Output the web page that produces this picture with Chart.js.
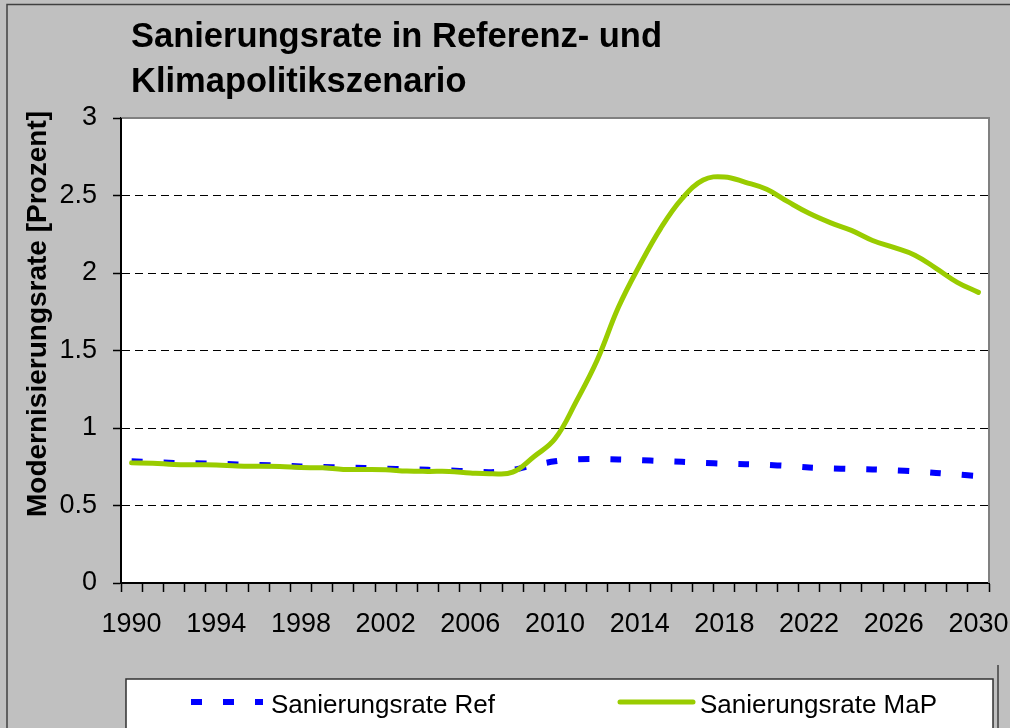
<!DOCTYPE html>
<html>
<head>
<meta charset="utf-8">
<script src="https://cdn.jsdelivr.net/npm/chart.js@4.4.0/dist/chart.umd.min.js"></script>
<style>
  html, body { margin: 0; padding: 0; background: #c0c0c0; }
  #wrap { position: relative; width: 1010px; height: 728px; overflow: hidden; }
</style>
</head>
<body>
<div id="wrap"><canvas id="c" width="1010" height="728"></canvas></div>
<script>
// --- data ---
const years = ['1990','1991','1992','1993','1994','1995','1996','1997','1998','1999',
               '2000','2001','2002','2003','2004','2005','2006','2007','2008','2009',
               '2010','2011','2012','2013','2014','2015','2016','2017','2018','2019',
               '2020','2021','2022','2023','2024','2025','2026','2027','2028','2029','2030'];

const rateRef = [0.785, 0.780, 0.775, 0.772, 0.770, 0.765, 0.762, 0.758, 0.752, 0.748,
                 0.745, 0.742, 0.738, 0.734, 0.730, 0.726, 0.720, 0.715, 0.730, 0.760,
                 0.785, 0.798, 0.800, 0.797, 0.793, 0.787, 0.782, 0.775, 0.770, 0.766,
                 0.762, 0.755, 0.745, 0.740, 0.736, 0.733, 0.727, 0.720, 0.710, 0.700, 0.690];

const rateMaP = [0.775, 0.773, 0.765, 0.763, 0.762, 0.755, 0.753, 0.752, 0.745, 0.743,
                 0.733, 0.732, 0.730, 0.722, 0.720, 0.720, 0.710, 0.705, 0.715, 0.815,
                 0.930, 1.170, 1.440, 1.780, 2.050, 2.290, 2.480, 2.600, 2.620, 2.585,
                 2.540, 2.460, 2.385, 2.325, 2.275, 2.210, 2.165, 2.115, 2.030, 1.940, 1.875];

const titleLines = ['Sanierungsrate in Referenz- und', 'Klimapolitikszenario'];
const yTitle = 'Modernisierungsrate [Prozent]';
const FONT = '"Liberation Sans", Arial, sans-serif';

// ─ background, plot frame, titles and boxed legend ─
const framePlugin = {
  id: 'frame',
  beforeDraw(chart) {
    const { ctx, chartArea: a } = chart;
    ctx.save();
    ctx.fillStyle = '#ffffff';
    ctx.fillRect(a.left, a.top, a.right - a.left, a.bottom - a.top);
    ctx.restore();
  },
  beforeDatasetsDraw(chart) {
    const { ctx, chartArea: a } = chart;
    ctx.save();
    ctx.strokeStyle = '#808080';
    ctx.lineWidth = 2;
    ctx.beginPath();
    ctx.moveTo(a.left, a.top);
    ctx.lineTo(a.right, a.top);
    ctx.lineTo(a.right, a.bottom);
    ctx.stroke();
    // solid left axis line (grid dash must not reach it)
    ctx.strokeStyle = '#000';
    ctx.beginPath();
    ctx.moveTo(a.left, a.top);
    ctx.lineTo(a.left, a.bottom);
    ctx.stroke();
    ctx.restore();
  },
  afterDraw(chart) {
    const { ctx } = chart;
    ctx.save();

    // outer chart border
    ctx.strokeStyle = '#404040';
    ctx.lineWidth = 1.5;
    ctx.beginPath();
    ctx.moveTo(7, 740); ctx.lineTo(7, 4.5); ctx.lineTo(1010, 4.5);
    ctx.moveTo(998, 665); ctx.lineTo(998, 740);
    ctx.stroke();

    // title
    ctx.fillStyle = '#000';
    ctx.font = 'bold 34.5px ' + FONT;
    ctx.textAlign = 'left';
    ctx.textBaseline = 'alphabetic';
    ctx.fillText(titleLines[0], 131, 47);
    ctx.fillText(titleLines[1], 131, 92);

    // y axis title
    ctx.save();
    ctx.translate(46, 314);
    ctx.rotate(-Math.PI / 2);
    ctx.font = 'bold 28px ' + FONT;
    ctx.textAlign = 'center';
    ctx.fillText(yTitle, 0, 0);
    ctx.restore();

    // legend box
    ctx.fillStyle = '#ffffff';
    ctx.fillRect(126, 679, 867, 70);
    ctx.strokeStyle = '#303030';
    ctx.lineWidth = 1.5;
    ctx.strokeRect(126, 679, 867, 70);

    const ds = chart.data.datasets;
    const slots = [{ x0: 191, x1: 263, tx: 271 }, { x0: 620, x1: 693, tx: 700 }];
    ds.forEach((d, i) => {
      const s = slots[i];
      ctx.save();
      ctx.beginPath();
      ctx.rect(s.x0 - 4, 690, s.x1 - s.x0 + 8, 24);
      ctx.clip();
      ctx.strokeStyle = d.borderColor;
      ctx.lineWidth = d.borderWidth;
      ctx.setLineDash(d.borderDash || []);
      ctx.lineCap = d.borderDash ? 'butt' : 'round';
      ctx.beginPath();
      ctx.moveTo(s.x0, 702);
      ctx.lineTo(s.x1, 702);
      ctx.stroke();
      ctx.restore();
      ctx.fillStyle = '#000';
      ctx.font = '26px ' + FONT;
      ctx.textAlign = 'left';
      ctx.fillText(d.label, s.tx, 713);
    });

    ctx.restore();
  }
};

new Chart(document.getElementById('c'), {
  type: 'line',
  data: {
    labels: years,
    datasets: [
      {
        label: 'Sanierungsrate Ref',
        data: rateRef,
        borderColor: '#0000ff',
        borderWidth: 6,
        borderDash: [11, 21],
        borderCapStyle: 'butt',
        tension: 0.3,
        pointRadius: 0,
        fill: false,
        order: 1
      },
      {
        label: 'Sanierungsrate MaP',
        data: rateMaP,
        borderColor: '#99cc00',
        borderWidth: 5,
        borderCapStyle: 'round',
        borderJoinStyle: 'round',
        tension: 0.4,
        pointRadius: 0,
        fill: false,
        order: 0
      }
    ]
  },
  options: {
    responsive: false,
    animation: false,
    devicePixelRatio: 1,
    layout: { padding: { left: 0, top: 118, right: 21, bottom: 0 } },
    plugins: {
      legend: { display: false },
      title: { display: false },
      tooltip: { enabled: false }
    },
    scales: {
      x: {
        type: 'category',
        offset: true,
        afterFit: s => { s.height = 145; s.paddingLeft = 0; s.paddingRight = 0; },
        grid: {
          offset: true,
          drawOnChartArea: false,
          drawTicks: true,
          tickLength: 9,
          tickColor: '#000',
          tickWidth: 1.5
        },
        border: { color: '#000', width: 2 },
        ticks: {
          autoSkip: false,
          maxRotation: 0,
          minRotation: 0,
          padding: 16,
          color: '#000',
          font: { family: FONT, size: 27 },
          callback: function (v, i) { return i % 4 === 0 ? this.getLabelForValue(v) : ''; }
        }
      },
      y: {
        min: 0,
        max: 3,
        afterFit: s => { s.width = 121; s.paddingTop = 0; s.paddingBottom = 0; },
        grid: {
          color: '#000',
          lineWidth: 1,
          tickBorderDash: [],
          tickLength: 8,
          tickColor: '#000',
          tickWidth: 1.5
        },
        border: { color: '#000', width: 2, dash: [8, 5] },
        ticks: {
          stepSize: 0.5,
          padding: 16,
          color: '#000',
          font: { family: FONT, size: 27 },
          callback: v => String(v)
        }
      }
    }
  },
  plugins: [framePlugin]
});
</script>
</body>
</html>
